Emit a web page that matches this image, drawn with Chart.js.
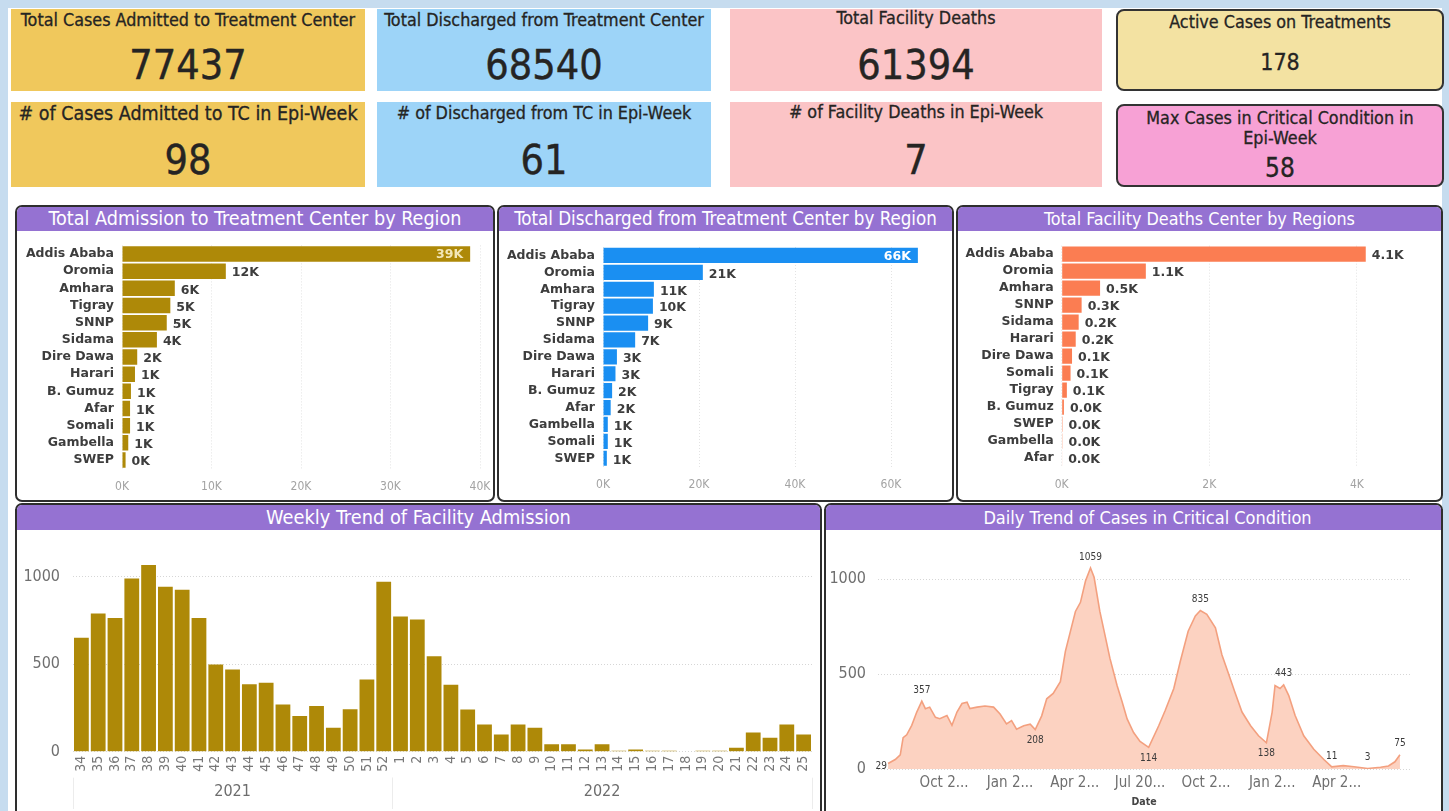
<!DOCTYPE html>
<html>
<head>
<meta charset="utf-8">
<title>Treatment Center Dashboard</title>
<script src="https://cdn.jsdelivr.net/npm/chart.js@4.4.0/dist/chart.umd.min.js"></script>
<style>
  body { margin:0; width:1449px; height:811px; overflow:hidden; background:#c6dcef; position:relative;
         font-family:"DejaVu Sans Condensed","DejaVu Sans",sans-serif; }
  #sheet { position:absolute; left:8px; top:8px; width:1434px; height:803px; background:#fff; }
  .card { position:absolute; box-sizing:border-box; text-align:center; color:#252423; }
  .card .t { position:absolute; left:0; right:0; font-size:17.8px; line-height:20px; -webkit-text-stroke:0.3px #252423; }
  .card .v { position:absolute; left:0; right:0; font-size:41px; line-height:44px; -webkit-text-stroke:0.4px #252423; }
  .round { border:2px solid #333; border-radius:8px; }
  .panel { position:absolute; box-sizing:border-box; border:2px solid #2e2e2e; border-radius:7px; overflow:hidden; }
  .panel .head { position:absolute; left:0; right:0; top:0; height:24px; background:#9572d2; color:#fff;
                 font-size:18px; line-height:24px; text-align:center; }
  canvas { position:absolute; }
</style>
</head>
<body>
<div id="sheet"></div>

<!-- KPI cards -->
<div class="card" style="left:11px;top:9px;width:354px;height:82px;background:#f0c85c">
  <div class="t" style="top:1px">Total Cases Admitted to Treatment Center</div>
  <div class="v" style="top:34px">77437</div>
</div>
<div class="card" style="left:377px;top:9px;width:334px;height:82px;background:#9dd4f8">
  <div class="t" style="top:1px">Total Discharged from Treatment Center</div>
  <div class="v" style="top:34px">68540</div>
</div>
<div class="card" style="left:730px;top:9px;width:372px;height:82px;background:#fbc4c6">
  <div class="t" style="top:-1px">Total Facility Deaths</div>
  <div class="v" style="top:34px">61394</div>
</div>
<div class="card round" style="left:1116px;top:9px;width:328px;height:82px;background:#f3e2a2">
  <div class="t" style="top:1px">Active Cases on Treatments</div>
  <div class="v" style="top:38px;font-size:23px;line-height:26px;-webkit-text-stroke:0.3px #252423">178</div>
</div>

<div class="card" style="left:11px;top:102px;width:354px;height:85px;background:#f0c85c">
  <div class="t" style="top:2px;font-size:19.5px"># of Cases Admitted to TC in Epi-Week</div>
  <div class="v" style="top:36px">98</div>
</div>
<div class="card" style="left:377px;top:102px;width:334px;height:85px;background:#9dd4f8">
  <div class="t" style="top:1px"># of Discharged from TC in Epi-Week</div>
  <div class="v" style="top:36px">61</div>
</div>
<div class="card" style="left:730px;top:102px;width:372px;height:85px;background:#fbc4c6">
  <div class="t" style="top:0px"># of Facility Deaths in Epi-Week</div>
  <div class="v" style="top:36px">7</div>
</div>
<div class="card round" style="left:1116px;top:104px;width:328px;height:83px;background:#f7a1d5">
  <div class="t" style="top:2px">Max Cases in Critical Condition in<br>Epi-Week</div>
  <div class="v" style="top:47px;font-size:26px;line-height:30px;-webkit-text-stroke:0.3px #252423">58</div>
</div>

<!-- chart panels -->
<div class="panel" style="left:15px;top:205px;width:480px;height:297px"><div class="head" style="font-size:19.6px">Total Admission to Treatment Center by Region</div></div>
<div class="panel" style="left:497px;top:205px;width:457px;height:297px"><div class="head" style="font-size:18.6px">Total Discharged from Treatment Center by Region</div></div>
<div class="panel" style="left:956px;top:205px;width:487px;height:297px"><div class="head" style="font-size:17.8px">Total Facility Deaths Center by Regions</div></div>
<div class="panel" style="left:15px;top:503px;width:807px;height:320px"><div class="head" style="height:25px;line-height:25px;font-size:19.8px">Weekly Trend of Facility Admission</div></div>
<div class="panel" style="left:824px;top:503px;width:619px;height:320px"><div class="head" style="height:25px;line-height:25px;font-size:18px;padding-left:28px">Daily Trend of Cases in Critical Condition</div></div>

<canvas id="admitChart" width="475" height="267" style="left:17px;top:232px"></canvas>
<canvas id="dischargeChart" width="453" height="267" style="left:499px;top:232px"></canvas>
<canvas id="deathChart" width="483" height="267" style="left:958px;top:232px"></canvas>
<canvas id="weeklyChart" width="803" height="276" style="left:17px;top:533px"></canvas>
<canvas id="dailyChart" width="615" height="276" style="left:826px;top:533px"></canvas>

<script>
// ---- data ----
const admitRegions = ['Addis Ababa', 'Oromia', 'Amhara', 'Tigray', 'SNNP', 'Sidama', 'Dire Dawa', 'Harari', 'B. Gumuz', 'Afar', 'Somali', 'Gambella', 'SWEP'];
const admitted = [38900, 11600, 5900, 5400, 5000, 3900, 1700, 1450, 1000, 900, 900, 700, 400];

const dischargeRegions = ['Addis Ababa', 'Oromia', 'Amhara', 'Tigray', 'SNNP', 'Sidama', 'Dire Dawa', 'Harari', 'B. Gumuz', 'Afar', 'Gambella', 'Somali', 'SWEP'];
const discharged = [65600, 20800, 10600, 10400, 9400, 6700, 2900, 2600, 1900, 1600, 1000, 1000, 800];

const deathRegions = ['Addis Ababa', 'Oromia', 'Amhara', 'SNNP', 'Sidama', 'Harari', 'Dire Dawa', 'Somali', 'Tigray', 'B. Gumuz', 'SWEP', 'Gambella', 'Afar'];
const deaths = [4120, 1140, 520, 270, 230, 190, 140, 120, 70, 30, 12, 10, 6];

const years = ['2021', '2022'];
const weeks2021 = ['34', '35', '36', '37', '38', '39', '40', '41', '42', '43', '44', '45', '46', '47', '48', '49', '50', '51', '52'];
const weekly2021 = [651, 790, 764, 990, 1067, 943, 926, 764, 499, 470, 385, 394, 270, 204, 261, 137, 242, 413, 971];
const weeks2022 = ['1', '2', '3', '4', '5', '6', '7', '8', '9', '10', '11', '12', '13', '14', '15', '16', '17', '18', '19', '20', '21', '22', '23', '24', '25'];
const weekly2022 = [773, 756, 545, 383, 241, 156, 99, 156, 137, 42, 42, 13, 42, 6, 13, 6, 6, 0, 5, 5, 23, 110, 80, 156, 99];

// days counted from mid July 2020
const dailyDays = [0, 10, 17, 21, 26, 33, 40, 47, 52, 58, 66, 72, 82, 89, 96, 103, 110, 114, 124, 135, 147, 156, 165, 172, 179, 189, 198, 205,
  214, 221, 230, 240, 247, 254, 261, 268, 275, 282, 287, 295, 302, 309, 319, 326, 333, 342, 351, 363,
  377, 386, 398, 407, 418, 428, 435, 444, 456, 465, 474, 483, 493, 505, 516, 527,
  535, 539, 546, 551, 558, 567, 579, 593, 607, 618, 634, 649, 668, 686, 697, 706, 713];
const dailyCritical = [29, 50, 75, 165, 180, 230, 300, 357, 318, 326, 272, 265, 282, 230, 300, 345, 352, 318, 326, 332, 326, 290, 238, 255, 210, 228, 236, 208,
  280, 370, 398, 460, 620, 725, 830, 878, 990, 1059, 1010, 830, 708, 584, 440, 354, 264, 192, 145, 114,
  228, 308, 424, 566, 726, 806, 835, 815, 744, 602, 504, 406, 300, 228, 175, 138,
  300, 440, 424, 443, 388, 282, 175, 104, 50, 11, 18, 12, 3, 9, 16, 38, 75];
const dateTickDays = [78, 170, 260, 351, 443, 535, 625];
const dateTickLabels = ['Oct 2...', 'Jan 2...', 'Apr 2...', 'Jul 20...', 'Oct 2...', 'Jan 2...', 'Apr 2...'];
const labelledDays = [0, 47, 205, 282, 363, 435, 527, 551, 618, 668, 713];

// ---- helpers ----
Chart.defaults.font.family = '"DejaVu Sans Condensed", "DejaVu Sans", sans-serif';

// fixed axis sizes so the plot areas land where the dashboard has them
const fixWidth = w => s => { s.width = w; s.paddingTop = 0; s.paddingBottom = 0; };
const fixHeight = h => s => { s.height = h; s.paddingLeft = 0; s.paddingRight = 0; };
const stepTicks = step => s => {
  const t = [];
  for (let v = 0; v <= s.max; v += step) t.push({ value: v });
  s.ticks = t;
};

// value labels at the end of each bar
const barLabels = {
  id: 'barLabels',
  afterDatasetsDraw(chart, args, opts) {
    const ctx = chart.ctx;
    const values = chart.data.datasets[0].data;
    ctx.save();
    ctx.font = 'bold 12.5px "DejaVu Sans"';
    ctx.textBaseline = 'middle';
    chart.getDatasetMeta(0).data.forEach((bar, i) => {
      const txt = opts.format(values[i]);
      if (i === 0 && opts.inside) {
        ctx.fillStyle = opts.inside;
        ctx.textAlign = 'right';
        ctx.fillText(txt, bar.x - 7, bar.y + 1);
      } else {
        ctx.fillStyle = '#3d3d3d';
        ctx.textAlign = 'left';
        ctx.fillText(txt, bar.x + 6, bar.y + 2);
      }
    });
    ctx.restore();
  }
};

// year captions under the week numbers
const yearGroups = {
  id: 'yearGroups',
  afterDraw(chart) {
    const ctx = chart.ctx, x = chart.scales.x;
    const half = (x.getPixelForValue(1) - x.getPixelForValue(0)) / 2;
    const sizes = [weeks2021.length, weeks2022.length];
    const base = chart.chartArea.bottom;
    let start = 0;
    ctx.save();
    ctx.font = '16px "DejaVu Sans Condensed"';
    ctx.fillStyle = '#6d6d6d';
    ctx.textAlign = 'center';
    ctx.textBaseline = 'middle';
    ctx.strokeStyle = '#ececec';
    ctx.lineWidth = 1;
    sizes.forEach((n, g) => {
      const left = x.getPixelForValue(start) - half;
      const right = x.getPixelForValue(start + n - 1) + half;
      ctx.fillText(years[g], (left + right) / 2, base + 40);
      [left, right].forEach(px => {
        ctx.beginPath();
        ctx.moveTo(Math.round(px) + 0.5, base + 26);
        ctx.lineTo(Math.round(px) + 0.5, chart.height);
        ctx.stroke();
      });
      start += n;
    });
    ctx.restore();
  }
};

// labels on selected points of the daily curve
const pointLabels = {
  id: 'pointLabels',
  afterDatasetsDraw(chart, args, opts) {
    const ctx = chart.ctx, meta = chart.getDatasetMeta(0);
    ctx.save();
    ctx.font = '10px "DejaVu Sans Condensed"';
    ctx.fillStyle = '#3b3b3b';
    ctx.textBaseline = 'middle';
    chart.data.datasets[0].data.forEach((p, i) => {
      if (!opts.days.includes(p.x)) return;
      const el = meta.data[i];
      let x = el.x, y = el.y - 11;
      ctx.textAlign = 'center';
      if (opts.below.includes(p.x)) y = el.y + 11;
      if (opts.left.includes(p.x)) { ctx.textAlign = 'right'; x = el.x - 1; y = el.y + 3; }
      ctx.fillText(String(p.y), x, y);
    });
    ctx.restore();
  }
};

function regionChart(id, labels, values, color, o) {
  return new Chart(document.getElementById(id), {
    type: 'bar',
    data: {
      labels: labels,
      datasets: [{ data: values, backgroundColor: color, barPercentage: 0.9, categoryPercentage: 1 }]
    },
    options: {
      responsive: false,
      animation: false,
      indexAxis: 'y',
      layout: { padding: { top: o.top, right: o.right, left: 0, bottom: 0 } },
      plugins: {
        legend: { display: false },
        tooltip: { enabled: false },
        barLabels: { format: o.format, inside: o.inside }
      },
      scales: {
        x: {
          min: 0, max: o.max,
          ticks: { color: '#a3a3a3', font: { size: 12 }, padding: 11, callback: v => (v / 1000) + 'K' },
          grid: { color: '#e3e3e3', drawTicks: false },
          border: { display: false, dash: [1, 2] },
          afterBuildTicks: stepTicks(o.step),
          afterFit: fixHeight(o.axisH)
        },
        y: {
          ticks: { color: '#3d3d3d', font: { family: '"DejaVu Sans"', weight: 'bold', size: 12.5 }, padding: 8, autoSkip: false },
          grid: { display: false, drawTicks: false },
          border: { display: false },
          afterFit: fixWidth(o.axisW)
        }
      }
    },
    plugins: [barLabels]
  });
}

const thousands = v => Math.round(v / 1000) + 'K';

regionChart('admitChart', admitRegions, admitted, '#ae8908',
  { top: 13.4, right: 12, max: 40000, step: 10000, axisH: 30.4, axisW: 105, format: thousands, inside: '#f3e7b8' });
regionChart('dischargeChart', dischargeRegions, discharged, '#1a8ff2',
  { top: 15, right: 17.8, max: 69000, step: 20000, axisH: 32.3, axisW: 104, format: thousands, inside: '#ffffff' });
regionChart('deathChart', deathRegions, deaths, '#fb7d52',
  { top: 13.7, right: 10.3, max: 5000, step: 2000, axisH: 32.3, axisW: 103.7, format: v => (v / 1000).toFixed(1) + 'K', inside: null });

new Chart(document.getElementById('weeklyChart'), {
  type: 'bar',
  data: {
    labels: weeks2021.concat(weeks2022),
    datasets: [{ data: weekly2021.concat(weekly2022), backgroundColor: '#ae8908', barPercentage: 0.88, categoryPercentage: 1 }]
  },
  options: {
    responsive: false,
    animation: false,
    layout: { padding: { top: 8.7, right: 8, left: 0, bottom: 0 } },
    plugins: { legend: { display: false }, tooltip: { enabled: false } },
    scales: {
      x: {
        ticks: { autoSkip: false, minRotation: 90, maxRotation: 90, color: '#777', font: { size: 14 }, padding: 4 },
        grid: { display: false, drawTicks: false },
        border: { display: false },
        afterFit: fixHeight(57.3)
      },
      y: {
        min: 0, max: 1200,
        ticks: { color: '#6f6f6f', font: { size: 16 }, padding: 13, callback: v => String(v) },
        grid: { color: '#d6d6d6', drawTicks: false },
        border: { display: false, dash: [1, 2] },
        afterBuildTicks: stepTicks(500),
        afterFit: fixWidth(56)
      }
    }
  },
  plugins: [yearGroups]
});

new Chart(document.getElementById('dailyChart'), {
  type: 'line',
  data: {
    datasets: [{
      data: dailyDays.map((d, i) => ({ x: d, y: dailyCritical[i] })),
      borderColor: '#f3a07f',
      backgroundColor: '#fcd2c1',
      fill: 'origin',
      borderWidth: 1.6,
      pointRadius: 0,
      tension: 0
    }]
  },
  options: {
    responsive: false,
    animation: false,
    layout: { padding: { top: 12, right: 31, left: 0, bottom: 0 } },
    plugins: {
      legend: { display: false },
      tooltip: { enabled: false },
      pointLabels: { days: labelledDays, below: [205, 363, 527], left: [0] }
    },
    scales: {
      x: {
        type: 'linear', min: -14, max: 727,
        afterBuildTicks: s => { s.ticks = dateTickDays.map(v => ({ value: v })); },
        ticks: { autoSkip: false, maxRotation: 0, color: '#6f6f6f', font: { size: 15 }, padding: 5,
                 callback: v => dateTickLabels[dateTickDays.indexOf(v)] },
        grid: { display: false, drawTicks: false },
        border: { display: false },
        title: { display: true, text: 'Date', color: '#444', font: { size: 10.5, weight: 'bold' }, padding: { top: 0, bottom: 0 } },
        afterFit: fixHeight(40)
      },
      y: {
        min: 0, max: 1180,
        ticks: { color: '#6f6f6f', font: { size: 16 }, padding: 12, callback: v => String(v) },
        grid: { color: '#d6d6d6', drawTicks: false },
        border: { display: false, dash: [1, 2] },
        afterBuildTicks: stepTicks(500),
        afterFit: fixWidth(52)
      }
    }
  },
  plugins: [pointLabels]
});
</script>
</body>
</html>
